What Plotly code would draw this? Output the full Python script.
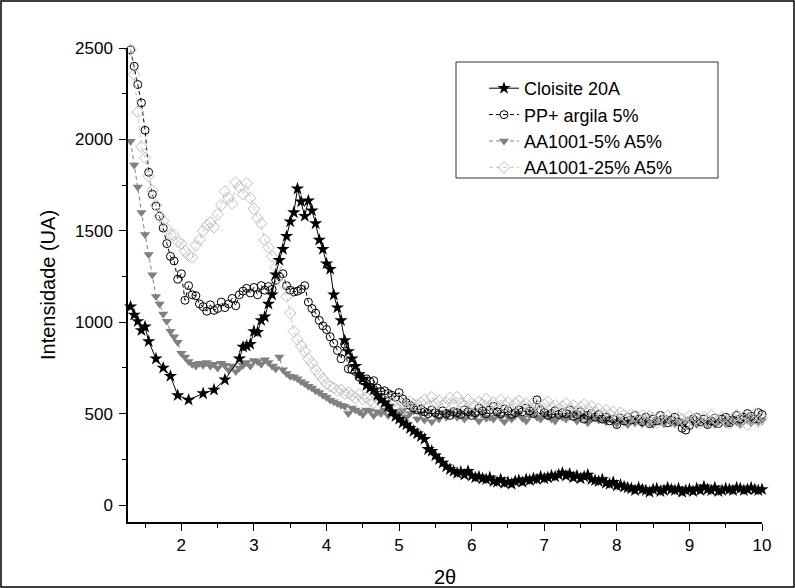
import plotly.graph_objects as go

# 2-theta scan positions (degrees)
two_theta = [
    1.30, 1.35, 1.40, 1.45, 1.50, 1.55, 1.60, 1.65, 1.70, 1.75,
    1.80, 1.85, 1.90, 1.95, 2.00, 2.05, 2.10, 2.15, 2.20, 2.25,
    2.30, 2.35, 2.40, 2.45, 2.50, 2.55, 2.60, 2.65, 2.70, 2.75,
    2.80, 2.85, 2.90, 2.95, 3.00, 3.05, 3.10, 3.15, 3.20, 3.25,
    3.30, 3.35, 3.40, 3.45, 3.50, 3.55, 3.60, 3.65, 3.70, 3.75,
    3.80, 3.85, 3.90, 3.95, 4.00, 4.05, 4.10, 4.15, 4.20, 4.25,
    4.30, 4.35, 4.40, 4.45, 4.50, 4.55, 4.60, 4.65, 4.70, 4.75,
    4.80, 4.85, 4.90, 4.95, 5.00, 5.05, 5.10, 5.15, 5.20, 5.25,
    5.30, 5.35, 5.40, 5.45, 5.50, 5.55, 5.60, 5.65, 5.70, 5.75,
    5.80, 5.85, 5.90, 5.95, 6.00, 6.05, 6.10, 6.15, 6.20, 6.25,
    6.30, 6.35, 6.40, 6.45, 6.50, 6.55, 6.60, 6.65, 6.70, 6.75,
    6.80, 6.85, 6.90, 6.95, 7.00, 7.05, 7.10, 7.15, 7.20, 7.25,
    7.30, 7.35, 7.40, 7.45, 7.50, 7.55, 7.60, 7.65, 7.70, 7.75,
    7.80, 7.85, 7.90, 7.95, 8.00, 8.05, 8.10, 8.15, 8.20, 8.25,
    8.30, 8.35, 8.40, 8.45, 8.50, 8.55, 8.60, 8.65, 8.70, 8.75,
    8.80, 8.85, 8.90, 8.95, 9.00, 9.05, 9.10, 9.15, 9.20, 9.25,
    9.30, 9.35, 9.40, 9.45, 9.50, 9.55, 9.60, 9.65, 9.70, 9.75,
    9.80, 9.85, 9.90, 9.95, 10.00,
]

# Cloisite 20A (None = no point recorded at that angle)
cloisite = [
    1085, 1040, 1005, 955, 975, 895, None, 800, None, 750,
    None, 705, None, 600, None, None, 575, None, None, None,
    610, None, None, 630, None, None, 685, None, None, None,
    800, 865, 870, 880, 950, 945, 1010, 1030, 1100, 1150,
    1260, 1340, 1400, 1470, 1550, 1600, 1730, 1660, 1580, 1665,
    1610, 1540, 1450, 1400, 1320, 1290, 1150, 1080, 1010, 900,
    840, 800, 760, 715, 690, 655, 640, 630, 600, 575,
    560, 540, 510, 485, 470, 450, 440, 420, 405, 390,
    375, 360, 305, 295, 270, 250, 230, 210, 195, 185,
    175, 180, 165, 185, 160, 150, 155, 145, 140, 150,
    130, 125, 140, 120, 125, 115, 130, 135, 125, 140,
    135, 145, 140, 155, 145, 150, 160, 155, 165, 175,
    160, 170, 150, 160, 145, 155, 165, 140, 135, 130,
    140, 120, 115, 125, 105, 110, 100, 95, 90, 80,
    95, 85, 80, 70, 85, 90, 75, 80, 95, 85,
    80, 90, 70, 80, 85, 75, 90, 80, 100, 85,
    80, 95, 75, 80, 90, 85, 80, 95, 90, 80,
    85, 95, 85, 80, 85,
]

# PP+ argila 5%
pp_argila = [
    2490, 2400, 2300, 2200, 2050, 1820, 1700, 1635, 1580, 1515,
    1430, 1360, 1335, 1235, 1265, 1120, 1200, 1150, 1145, 1100,
    1085, 1060, 1095, 1065, 1075, 1110, 1080, 1100, 1130, 1090,
    1150, 1170, 1185, 1160, 1190, 1150, 1200, 1175, 1195, 1180,
    1230, 1250, 1265, 1200, 1175, 1165, 1170, 1180, 1200, 1110,
    1075, 1050, 1010, 980, 960, 920, 885, 845, 800, 880,
    745, 740, 730, 700, 680, 690, 675, 680, 640, 620,
    625, 610, 600, 590, 615, 580, 560, 545, 530, 520,
    525, 510, 500, 520, 505, 495, 515, 500, 490, 510,
    505, 495, 520, 510, 490, 505, 530, 515, 500, 520,
    540, 510, 500, 525, 515, 495, 505, 520, 510, 530,
    515, 500, 575, 520, 505, 490, 500, 515, 495, 505,
    500, 520, 485, 495, 510, 470, 490, 500, 480, 495,
    470, 480, 460, 470, 440, 475, 460, 480, 465, 490,
    470, 455, 480, 445, 470, 460, 490, 470, 450, 465,
    480, 455, 420, 410, 435, 470, 480, 455, 470, 440,
    460, 475, 445, 470, 480, 450, 465, 490, 470, 480,
    500, 485, 470, 505, 495,
]

# AA1001-5% A5%
aa_5 = [
    1990, 1860, 1740, 1600, 1480, 1370, 1260, 1140, 1100, 1045,
    1005, 950, 920, 890, 830, 810, 785, 770, 760, 775,
    765, 780, 760, 770, 750, 775, 765, 740, 760, 730,
    750, 765, 780, 760, 790, 785, 770, 795, 780, 760,
    745, 810, 740, 720, 705, 700, 690, 675, 665, 650,
    640, 625, 615, 600, 590, 575, 565, 555, 545, 540,
    500, 530, 520, 510, 495, 520, 515, 490, 510, 500,
    520, 490, 510, 505, 495, 520, 480, 500, 515, 470,
    500, 465, 510, 455, 490, 470, 500, 480, 510, 495,
    480, 500, 470, 490, 505, 485, 460, 495, 475, 480,
    470, 495, 480, 455, 485, 470, 490, 500, 475, 460,
    490, 505, 480, 470, 495, 485, 470, 460, 490, 480,
    470, 485, 495, 460, 475, 490, 450, 470, 480, 465,
    470, 455, 475, 460, 445, 470, 455, 440, 465, 450,
    460, 445, 470, 450, 440, 465, 455, 445, 470, 450,
    445, 460, 440, 455, 470, 450, 440, 465, 455, 445,
    460, 440, 455, 465, 445, 450, 470, 455, 440, 460,
    465, 450, 470, 455, 460,
]

# AA1001-25% A5%
aa_25 = [
    2490, 2355, 2150, 1960, 1900, 1800, 1720, 1640, 1580, 1555,
    1510, 1480, 1475, 1440, 1430, 1390, 1365, 1355, 1420, 1450,
    1500, 1530, 1545, 1520, 1590, 1640, 1715, 1680, 1650, 1765,
    1740, 1700, 1760, 1680, 1620, 1570, 1540, 1450, 1410, 1360,
    1300, 1250, 1210, 1140, 1050, 950, 905, 870, 840, 800,
    775, 740, 715, 690, 665, 650, 640, 625, 630, 610,
    615, 600, 585, 605, 580, 590, 570, 560, 585, 565,
    570, 545, 560, 540, 575, 555, 530, 565, 550, 545,
    560, 575, 540, 590, 555, 570, 545, 560, 585, 550,
    590, 560, 545, 575, 555, 540, 565, 550, 580, 545,
    560, 535, 575, 545, 560, 530, 555, 570, 540, 555,
    530, 560, 545, 520, 550, 565, 535, 545, 520, 540,
    555, 525, 545, 510, 535, 550, 520, 540, 510, 525,
    500, 520, 495, 510, 480, 505, 490, 470, 495, 485,
    470, 490, 460, 485, 475, 450, 480, 465, 490, 470,
    455, 480, 470, 445, 485, 460, 475, 450, 480, 465,
    490, 470, 455, 480, 465, 445, 475, 490, 460, 480,
    440, 470, 500, 455, 475,
]

FONT = "Liberation Sans, Arial, sans-serif"

fig = go.Figure()

# drawn bottom to top; legendrank keeps the legend order of the original
fig.add_trace(go.Scatter(
    x=two_theta, y=aa_5, name="AA1001-5% A5%", mode="lines+markers",
    line=dict(color="#808080", width=1, dash="4px,3px"),
    marker=dict(symbol="triangle-down", size=9, color="#808080"),
    legendrank=3, cliponaxis=False,
))
fig.add_trace(go.Scatter(
    x=two_theta, y=pp_argila, name="PP+ argila 5%", mode="lines+markers",
    line=dict(color="black", width=1, dash="4px,3px"),
    marker=dict(symbol="circle-open", size=8, color="black", line=dict(width=1)),
    legendrank=2, cliponaxis=False,
))
fig.add_trace(go.Scatter(
    x=two_theta, y=aa_25, name="AA1001-25% A5%", mode="lines+markers",
    line=dict(color="#c8c8c8", width=1, dash="4px,3px"),
    marker=dict(symbol="diamond-open", size=9, color="#c0c0c0", line=dict(width=1)),
    legendrank=4, cliponaxis=False,
))
fig.add_trace(go.Scatter(
    x=two_theta, y=cloisite, name="Cloisite 20A", mode="lines+markers",
    connectgaps=True,
    line=dict(color="black", width=1),
    marker=dict(symbol="star", size=10, color="black"),
    legendrank=1, cliponaxis=False,
))

W, H = 795, 588
ML, MR, MT, MB = 128, 33, 48, 66
pw, ph = W - ML - MR, H - MT - MB


def px_x(p):
    return (p - ML) / pw


def px_y(p):
    return 1 - (p - MT) / ph


fig.update_layout(
    width=W, height=H,
    margin=dict(l=ML, r=MR, t=MT, b=MB),
    paper_bgcolor="white", plot_bgcolor="white",
    font=dict(family=FONT, size=17, color="black"),
    legend=dict(
        x=px_x(484), y=px_y(70), xanchor="left", yanchor="top",
        borderwidth=0, bgcolor="rgba(0,0,0,0)",
        font=dict(size=18), traceorder="normal",
    ),
    shapes=[
        # legend box
        dict(type="rect", xref="paper", yref="paper",
             x0=px_x(456), x1=px_x(718), y0=px_y(178), y1=px_y(62),
             line=dict(color="#333333", width=1), layer="below"),
        # outer frame
        dict(type="rect", xref="paper", yref="paper",
             x0=px_x(1), x1=px_x(W - 1), y0=px_y(H - 1), y1=px_y(1),
             line=dict(color="black", width=1.5)),
    ],
)

fig.update_xaxes(
    range=[1.265, 10], showgrid=False, zeroline=False, automargin=False,
    showline=True, linecolor="black", linewidth=1.5,
    ticks="outside", ticklen=7, tickwidth=1, tickcolor="black",
    tickvals=[2, 3, 4, 5, 6, 7, 8, 9, 10],
    minor=dict(tickvals=[1.5, 2.5, 3.5, 4.5, 5.5, 6.5, 7.5, 8.5, 9.5],
               ticks="outside", ticklen=4, tickcolor="black"),
    tickfont=dict(size=17), ticklabelstandoff=0,
    title=dict(text="2θ", font=dict(size=20), standoff=16),
)
fig.update_yaxes(
    range=[-93, 2500], showgrid=False, zeroline=False, automargin=False,
    showline=True, linecolor="black", linewidth=1.5,
    ticks="outside", ticklen=7, tickwidth=1, tickcolor="black",
    tickvals=[0, 500, 1000, 1500, 2000, 2500],
    minor=dict(tickvals=[250, 750, 1250, 1750, 2250],
               ticks="outside", ticklen=4, tickcolor="black"),
    tickfont=dict(size=17), ticklabelstandoff=3,
    title=dict(text="Intensidade (UA)", font=dict(size=20), standoff=14),
)

fig.write_html(
    "out.html",
    config={"displayModeBar": False},
    post_script="document.body.style.margin='0';document.body.style.overflow='hidden';",
)
